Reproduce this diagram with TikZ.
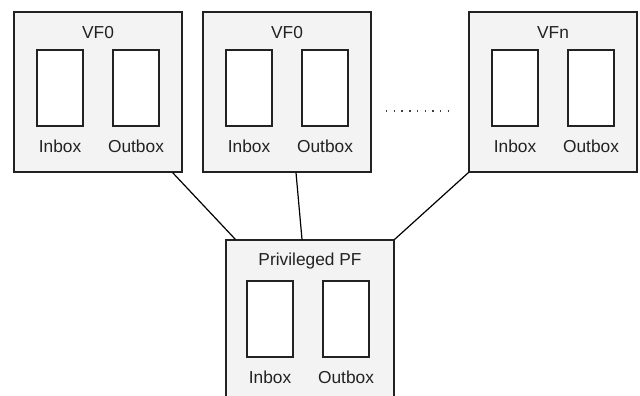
\documentclass[tikz,border=0pt]{standalone}
\usepackage{fontspec}
\setmainfont{Liberation Sans}
\usetikzlibrary{positioning}
\definecolor{boxgray}{RGB}{243,243,243}
\definecolor{linegray}{RGB}{34,34,34}
\tikzset{
  fnbox/.style={draw=linegray,fill=boxgray,line width=0.9pt,minimum width=126pt,minimum height=120pt,inner sep=0pt},
  mbox/.style={draw=linegray,fill=white,line width=0.9pt,minimum width=34.5pt,minimum height=57pt,inner sep=0pt},
  lbl/.style={font=\fontsize{13}{15}\selectfont,text=linegray,inner sep=0pt},
  link/.style={draw=black,line width=0.9pt},
  dotrow/.style={draw=gray!50!black,line width=1.1pt,dash pattern=on 1pt off 4.8pt}
}

\begin{document}
\begin{tikzpicture}[x=0.75pt,y=-0.75pt]
  \useasboundingbox (0,0) rectangle (640,396);
  % virtual functions
  \foreach \nm/\cx/\ttl in {vfa/98/VF0, vfb/287/VF0, vfn/553/VFn} {
    \node[fnbox] (\nm) at (\cx,92) {};
    \node[lbl] (\nm-t) at (\cx,33) {\ttl};
    \node[mbox] (\nm-in) at (\cx-38,88) {};
    \node[mbox] (\nm-out) at (\cx+38,88) {};
    \node[lbl] (\nm-inl) at (\cx-38,146) {Inbox};
    \node[lbl] (\nm-outl) at (\cx+38,146) {Outbox};
  }
  \draw[dotrow] (386,111) -- (449,111);
  % privileged physical function
  \node[fnbox] (pf) at (310,320) {};
  \node[lbl] (pf-t) at (310,261) {Privileged PF};
  \node[mbox] (pf-in) at (270,319) {};
  \node[mbox] (pf-out) at (346,319) {};
  \node[lbl] (pf-inl) at (270,377) {Inbox};
  \node[lbl] (pf-outl) at (346,377) {Outbox};
  % links
  \draw[link] ([xshift=-7.5pt]vfa.south east) -- ([xshift=7.5pt]pf.north west);
  \draw[link] ([xshift=6.75pt]vfb.south) -- ([xshift=-6pt]pf.north);
  \draw[link] (vfn.south west) -- (pf.north east);
\end{tikzpicture}
\end{document}
